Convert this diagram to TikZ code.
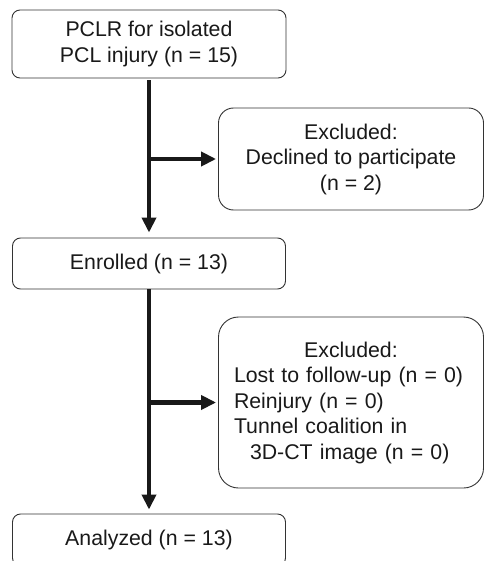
\documentclass[tikz,border=0pt]{standalone}
\usepackage{fontspec}
\setmainfont{Liberation Sans}
\usetikzlibrary{arrows.meta}
\begin{document}
\begin{tikzpicture}[x=1pt,y=-1pt,
  box/.style={draw=black!80,line width=0.9pt,rounded corners=#1,
    font=\fontsize{21.3}{25.5}\selectfont,text=black!90,inner sep=0pt},
  box/.default=8pt,
  flow/.style={line width=4.5pt,draw=black!90,
    -{Triangle[length=15pt,width=14pt]}}]
\def\cx{149}
\clip (0,0) rectangle (484,561);
\fill[white] (0,0) rectangle (484,561);
\node[box,minimum width=274pt,minimum height=68pt,align=center] (pclr) at (\cx,44)
  {PCLR for isolated\\PCL injury (n = 15)};
\node[box,minimum width=273pt,minimum height=51pt] (enrolled) at (\cx,263.5)
  {Enrolled (n = 13)};
\node[box=15pt,minimum width=265pt,minimum height=102pt,align=center] (declined) at (351,159)
  {Excluded:\\Declined to participate\\(n = 2)};
\node[box=20pt,minimum width=265pt,minimum height=171pt,text width=234pt,align=left] (lost) at (351,402.5)
  {\makebox[234pt]{Excluded:}\\Lost to follow-up (n = 0)\\Reinjury (n = 0)\\Tunnel coalition in\\\hspace*{16pt}3D-CT image (n = 0)};
\node[box,minimum width=273pt,minimum height=52pt] (analyzed) at (\cx,540)
  {Analyzed (n = 13)};
\draw[flow,shorten <=2pt,shorten >=5pt] (pclr.south) -- (enrolled.north);
\draw[flow,shorten >=2pt] (pclr.south |- declined.west) -- (declined.west);
\draw[flow,shorten >=4pt] (enrolled.south) -- (analyzed.north);
\draw[flow,shorten >=2pt] (enrolled.south |- lost.west) -- (lost.west);
\end{tikzpicture}
\end{document}
